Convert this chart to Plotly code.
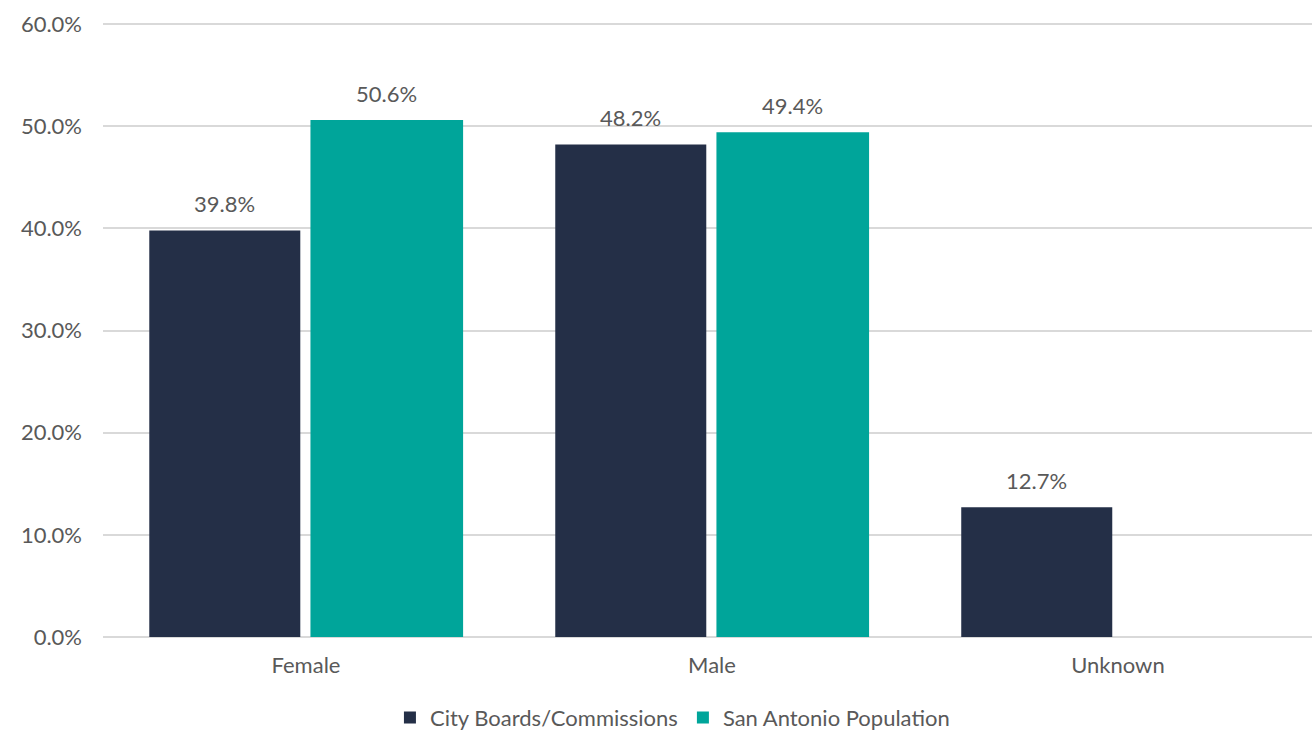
import plotly.graph_objects as go

# Gender composition: city boards vs. city population
categories = ["Female", "Male", "Unknown"]
boards = [39.8, 48.2, 12.7]
population = [50.6, 49.4, None]
series_names = ["City Boards/Commissions", "San Antonio Population"]
y_ticks = [0, 10, 20, 30, 40, 50, 60]

NAVY = "#242F47"
TEAL = "#00A59A"
TEXT = "#595959"
GRID = "#D9D9D9"
FONT = "Lato, 'Open Sans', sans-serif"

# bar geometry (category units): width and left offset per series
BAR_W = [0.372, 0.376]
BAR_OFF = [-0.386, 0.011]

fig = go.Figure()
for name, vals, color, w, off in zip(series_names, [boards, population],
                                     [NAVY, TEAL], BAR_W, BAR_OFF):
    fig.add_trace(go.Bar(
        x=categories, y=vals, name=name,
        marker=dict(color=color, line=dict(width=0)),
        width=w, offset=off,
    ))

# value labels above each bar
annotations = []
for vals, w, off in zip([boards, population], BAR_W, BAR_OFF):
    for i, v in enumerate(vals):
        if v is None:
            continue
        annotations.append(dict(
            x=i + off + w / 2, y=v, xref="x", yref="y",
            text=f"{v:.1f}%", showarrow=False,
            yanchor="middle", yshift=27,
            font=dict(size=22, color=TEXT, family=FONT),
        ))

fig.update_layout(
    width=1312, height=730,
    margin=dict(l=103, r=0, t=21, b=93, autoexpand=False),
    barmode="overlay",
    plot_bgcolor="white", paper_bgcolor="white",
    font=dict(family=FONT, color=TEXT, size=22),
    annotations=annotations,
    legend=dict(
        orientation="h", x=0.471, xanchor="center",
        y=-0.097, yanchor="top",
        font=dict(size=22, color=TEXT),
        itemwidth=30,
    ),
    xaxis=dict(
        range=[-0.5, 2.478], showgrid=False, zeroline=False,
        showline=False, ticks="", ticklabelstandoff=13,
        tickfont=dict(size=22, color=TEXT),
    ),
    yaxis=dict(
        range=[0, 60.3], tickvals=y_ticks,
        ticktext=[f"{v:.1f}%" for v in y_ticks],
        showgrid=True, gridcolor=GRID, gridwidth=1.5,
        zeroline=True, zerolinecolor=GRID, zerolinewidth=1.5,
        showline=False, ticks="", ticklabelstandoff=20,
        tickfont=dict(size=22, color=TEXT),
    ),
)

fig.write_html("out.html")
